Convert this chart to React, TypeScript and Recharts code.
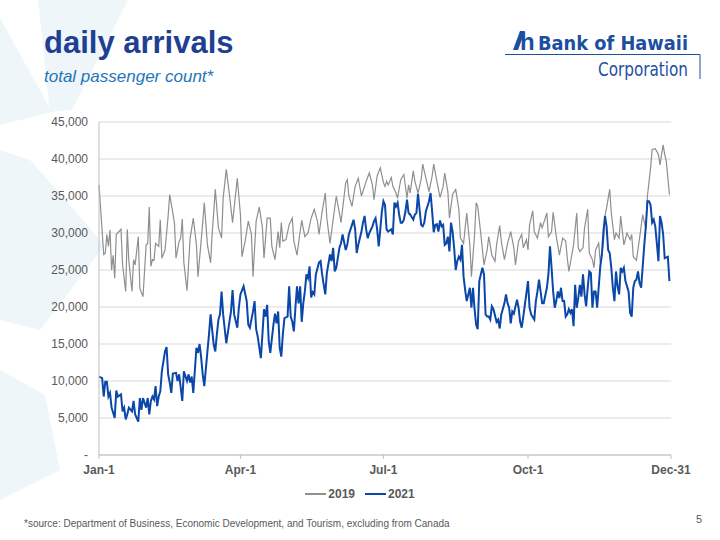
import React from "react";
import { LineChart, Line, XAxis, YAxis, CartesianGrid, Legend } from "recharts";

// day of year (0 = Jan-1) and total passenger count
const days2019 = [
  0, 3, 4, 5, 6, 7, 8, 9, 10, 11, 14, 15, 17, 18, 19, 21, 22, 23, 25, 26, 28, 30, 31, 32, 33, 34, 35, 36, 38, 39,
  40, 42, 44, 45, 48, 49, 51, 52, 53, 54, 56, 58, 60, 62, 63, 66, 67, 69, 71, 72, 74, 76, 78, 79, 81, 83, 85, 88,
  90, 91, 93, 95, 97, 98, 100, 102, 104, 105, 107, 109, 110, 112, 114, 115, 116, 117, 119, 121, 123, 124, 126,
  128, 129, 131, 133, 135, 137, 139, 140, 142, 144, 145, 147, 149, 151, 153, 154, 157, 158, 159, 161, 163, 165,
  167, 169, 170, 172, 174, 175, 177, 179, 181, 182, 183, 184, 186, 187, 189, 190, 192, 194, 196, 197, 198, 200,
  201, 203, 205, 206, 208, 210, 212, 213, 215, 217, 219, 220, 222, 223, 225, 227, 229, 230, 232, 234, 236, 237,
  239, 240, 241, 243, 245, 247, 248, 250, 252, 253, 255, 256, 258, 260, 262, 264, 265, 267, 269, 270, 272, 273,
  274, 276, 277, 279, 281, 282, 285, 286, 288, 289, 291, 293, 295, 297, 298, 299, 302, 304, 305, 306, 308, 309,
  311, 312, 314, 315, 316, 318, 319, 321, 322, 323, 325, 326, 328, 329, 331, 332, 334, 336, 338, 339, 340, 342,
  344, 346, 348, 349, 351, 352, 354, 356, 357, 358, 359, 360, 361, 363,
];
const arrivals2019 = [
  36500, 27100, 27300, 29800, 28200, 30400, 25000, 27000, 23900, 29800, 30500, 25700, 22100, 30500, 26200, 22100,
  26400, 25700, 29500, 22500, 21400, 28400, 28600, 33500, 25500, 26400, 26300, 28600, 28200, 31800, 26600, 27700,
  32300, 35200, 31400, 26600, 28900, 29300, 31900, 26000, 22200, 29300, 32000, 28400, 24100, 31400, 34100, 28400,
  26000, 29800, 35900, 30700, 29300, 34700, 38600, 35200, 31400, 37400, 32500, 26800, 28900, 31600, 29800, 24100,
  31600, 33500, 30700, 26600, 32000, 32000, 28200, 26400, 30200, 28000, 31400, 28900, 29100, 31100, 32000, 28900,
  27000, 30200, 31700, 29500, 30000, 32000, 33200, 31600, 29800, 32900, 35400, 32000, 28600, 31800, 35000, 32700,
  31400, 36800, 37200, 35000, 33600, 36300, 37400, 35000, 36300, 37000, 38100, 36500, 34500, 37700, 38800, 36800,
  36300, 37000, 36500, 37500, 36300, 35400, 34700, 37200, 37900, 34700, 36500, 35400, 38400, 37000, 35400, 37200,
  39300, 37400, 35600, 37700, 39300, 37000, 34800, 36300, 38100, 35600, 32000, 35200, 35900, 33200, 29300, 28600,
  32700, 28400, 24100, 29800, 34100, 33600, 29800, 25700, 27700, 29500, 27000, 26200, 28400, 31000, 28900, 26400,
  28600, 30200, 28000, 25700, 28900, 29800, 28000, 29100, 27700, 31100, 33000, 30200, 29300, 31400, 30700, 32700,
  29500, 30200, 32800, 29500, 27000, 29300, 28900, 26600, 24800, 28400, 32700, 28000, 27500, 28000, 30700, 33200,
  27300, 26400, 25300, 27700, 28600, 26000, 28600, 32300, 33400, 35900, 32700, 29100, 30000, 29300, 32300, 28400,
  30000, 29100, 29800, 26800, 26300, 29300, 32500, 30500, 35000, 38800, 41300, 41400, 40600, 39200, 40600, 41900,
  40600, 39700, 35200,
];

const days2021 = [
  0, 2, 3, 4, 5, 6, 7, 8, 10, 11, 12, 14, 15, 16, 17, 18, 19, 21, 22, 23, 24, 25, 26, 27, 28, 30, 31, 32, 33, 34,
  35, 36, 37, 38, 39, 40, 42, 43, 44, 45, 46, 47, 49, 50, 51, 52, 53, 54, 56, 57, 58, 59, 60, 62, 63, 64, 65, 66,
  67, 69, 70, 71, 73, 74, 75, 76, 77, 78, 79, 81, 83, 84, 85, 86, 88, 89, 90, 92, 94, 95, 96, 98, 99, 100, 101,
  103, 104, 105, 106, 107, 108, 109, 111, 112, 113, 114, 115, 116, 117, 118, 120, 121, 122, 123, 124, 125, 126,
  127, 128, 129, 130, 131, 132, 133, 134, 135, 136, 137, 138, 140, 141, 142, 143, 144, 145, 147, 148, 149, 150,
  151, 153, 154, 155, 157, 158, 159, 161, 162, 163, 164, 165, 167, 168, 169, 170, 171, 172, 174, 175, 176, 177,
  178, 179, 180, 181, 182, 183, 184, 186, 187, 188, 189, 190, 191, 192, 193, 194, 195, 196, 197, 198, 200, 201,
  202, 203, 204, 205, 206, 207, 208, 210, 211, 212, 213, 214, 215, 216, 217, 218, 219, 220, 221, 222, 223, 224,
  225, 226, 227, 228, 229, 230, 231, 232, 233, 234, 235, 236, 237, 238, 239, 240, 241, 242, 244, 245, 246, 247,
  248, 249, 250, 251, 253, 254, 255, 256, 258, 259, 260, 261, 262, 263, 264, 266, 267, 268, 269, 270, 271, 273,
  274, 275, 277, 278, 279, 280, 281, 282, 283, 285, 286, 287, 288, 289, 290, 291, 292, 293, 294, 295, 296, 297,
  298, 299, 300, 301, 302, 303, 304, 305, 306, 307, 308, 309, 310, 311, 312, 313, 314, 315, 316, 317, 319, 320,
  321, 322, 323, 324, 325, 326, 327, 328, 329, 330, 331, 332, 333, 334, 335, 337, 338, 339, 340, 341, 342, 343,
  344, 345, 346, 347, 348, 349, 350, 351, 352, 353, 354, 355, 356, 357, 358, 359, 360, 362, 363,
];
const arrivals2021 = [
  10600, 10400, 7900, 9900, 9900, 7900, 8400, 6400, 5000, 8700, 7900, 8200, 5900, 6400, 4800, 5500, 6400, 5900,
  7300, 5500, 5000, 4500, 7700, 6100, 7700, 6400, 7700, 5500, 7300, 7900, 7500, 9300, 6600, 7900, 8600, 11300,
  14000, 14600, 10900, 9800, 8400, 11000, 11100, 10000, 10900, 9100, 7300, 11300, 10000, 10900, 9800, 10600, 8400,
  14500, 13800, 15000, 13200, 10900, 9300, 14000, 16300, 19000, 14900, 14000, 16300, 18300, 19000, 22100, 19000,
  15100, 18000, 19400, 22300, 19000, 17200, 19900, 21700, 22800, 20800, 17600, 17200, 19400, 20800, 17000, 16000,
  13100, 16300, 19700, 18700, 20300, 15400, 13800, 17600, 19100, 17800, 19400, 14500, 13300, 16300, 18500, 18700,
  22800, 18700, 18000, 16700, 19900, 22800, 20500, 22800, 18000, 20500, 22100, 24400, 23900, 25500, 21300, 22000,
  21700, 24400, 26000, 26200, 24400, 23000, 21700, 24600, 27100, 26200, 28000, 24800, 25300, 28000, 28600, 29800,
  27700, 28400, 29800, 31100, 31800, 30500, 27300, 28400, 30200, 31400, 32300, 30500, 29300, 30000, 30900, 31600,
  32000, 30500, 28200, 30500, 32900, 34300, 33800, 30500, 30200, 30500, 29800, 34100, 33600, 34100, 32500, 31400,
  31400, 31800, 32900, 34500, 32700, 32500, 31800, 32500, 32700, 35300, 33200, 31100, 30900, 31400, 32900, 34300,
  35400, 32900, 30100, 31100, 31200, 30200, 31700, 30900, 31100, 28400, 28600, 29500, 27500, 31400, 30200, 28000,
  25000, 26200, 26800, 26400, 28400, 24100, 22300, 20800, 21700, 22600, 19900, 22600, 19700, 17600, 17000, 23500,
  25300, 24400, 19000, 18700, 18700, 18300, 20100, 19700, 18000, 18300, 17100, 19000, 20500, 21700, 20500, 19900,
  17800, 19400, 19100, 21000, 19900, 18000, 17200, 18700, 20300, 23500, 19900, 19000, 18300, 20800, 22100, 23700,
  22100, 20500, 20500, 22600, 24400, 28200, 25300, 22100, 19900, 20800, 22100, 21200, 22600, 20800, 20800, 18700,
  19000, 19700, 19200, 19700, 17400, 23000, 19900, 21200, 23000, 21400, 24400, 21700, 20100, 22600, 24800, 24600,
  19900, 22100, 22100, 19900, 25500, 27000, 30200, 32300, 30900, 27700, 27300, 25300, 22600, 20800, 24800, 22800,
  21700, 25300, 24800, 25300, 23500, 22100, 19200, 18700, 22600, 23500, 23700, 24800, 23200, 22600, 25500, 28400,
  30900, 34300, 34300, 33800, 31400, 31800, 30900, 28600, 26200, 32300, 31400, 29800, 26600, 26800, 23500,
];

const tickDays = [0, 90, 181, 273, 364];
const tickLabels = ["Jan-1", "Apr-1", "Jul-1", "Oct-1", "Dec-31"];
const yTicks = [0, 5000, 10000, 15000, 20000, 25000, 30000, 35000, 40000, 45000];

const series = [
  { name: "2019", color: "#8f8f8f", width: 1.2, days: days2019, values: arrivals2019 },
  { name: "2021", color: "#0b47a8", width: 2, days: days2021, values: arrivals2021 },
];

const FONT = "Arial, 'Liberation Sans', sans-serif";
const NARROW = "'Liberation Sans Narrow', 'DejaVu Sans Condensed', Arial, sans-serif";

const LegendBox = () => (
  <div style={{ display: "flex", justifyContent: "center", gap: 10, fontFamily: FONT }}>
    {series.map((s) => (
      <div key={s.name} style={{ display: "flex", alignItems: "center", gap: 2 }}>
        <div style={{ width: 21, height: s.name === "2019" ? 1.5 : 2, background: s.color }} />
        <span style={{ fontSize: 12, fontWeight: "bold", color: "#595959" }}>{s.name}</span>
      </div>
    ))}
  </div>
);

const Watermark = () => (
  <svg width={720} height={540} style={{ position: "absolute", left: 0, top: 0 }}>
    <g fill="#eef6f9">
      <polygon points="38,0 128,0 72,110 50,112" />
      <polygon points="0,18 0,125 52,112" />
      <polygon points="0,150 30,160 105,245 40,330 0,320" />
      <polygon points="0,370 45,395 60,470 0,500" />
    </g>
  </svg>
);

export default function App() {
  const lines = series.map((s) => ({
    ...s,
    data: s.days.map((d, i) => ({ day: d, value: s.values[i] })),
  }));

  return (
    <div
      style={{
        position: "fixed",
        left: 0,
        top: 0,
        width: 720,
        height: 540,
        background: "#ffffff",
        overflow: "hidden",
        fontFamily: FONT,
      }}
    >
      <Watermark />

      <div style={{ position: "absolute", left: 44, top: 25, fontSize: 31, fontWeight: "bold", color: "#1f3f93" }}>
        daily arrivals
      </div>
      <div style={{ position: "absolute", left: 44, top: 67, fontSize: 17, fontStyle: "italic", color: "#1f74bb" }}>
        total passenger count*
      </div>

      {/* logo */}
      <svg width={720} height={120} style={{ position: "absolute", left: 0, top: 0 }}>
        <polygon points="513,50 518,50 525,31 520,31" fill="#1d4f9f" />
        <text x={520} y={50} fontSize={24} fontWeight="bold" fill="#1d4f9f" fontFamily={FONT}>
          h
        </text>
        <text
          x={538}
          y={50}
          fontSize={20}
          fontWeight="bold"
          fill="#1d4f9f"
          fontFamily={NARROW}
          textLength={150}
          lengthAdjust="spacingAndGlyphs"
        >
          Bank of Hawaii
        </text>
        <line x1={505} y1={54.5} x2={700} y2={54.5} stroke="#1d4f9f" strokeWidth={1} />
        <line x1={700} y1={54.5} x2={700} y2={79} stroke="#1d4f9f" strokeWidth={1} />
        <text
          x={598}
          y={76}
          fontSize={19}
          fill="#1d4f9f"
          fontFamily={NARROW}
          textLength={90}
          lengthAdjust="spacingAndGlyphs"
        >
          Corporation
        </text>
      </svg>

      <div style={{ position: "absolute", left: 0, top: 0 }}>
        <LineChart width={720} height={540} margin={{ top: 122, right: 49, bottom: 55, left: 0 }}>
          <CartesianGrid vertical={false} stroke="#d9d9d9" />
          <XAxis
            type="number"
            dataKey="day"
            domain={[0, 364]}
            ticks={tickDays}
            tickFormatter={(v: number) => tickLabels[tickDays.indexOf(v)]}
            allowDuplicatedCategory={false}
            height={30}
            axisLine={{ stroke: "#bfbfbf" }}
            tickLine={{ stroke: "#bfbfbf" }}
            tickSize={4}
            tickMargin={6}
            tick={{ fill: "#595959", fontSize: 12, fontWeight: "bold", fontFamily: FONT }}
          />
          <YAxis
            type="number"
            domain={[0, 45000]}
            ticks={yTicks}
            width={99}
            axisLine={{ stroke: "#bfbfbf" }}
            tickLine={false}
            tickSize={0}
            tickMargin={11}
            tickFormatter={(v: number) => (v === 0 ? "-" : v.toLocaleString("en-US"))}
            tick={{ fill: "#595959", fontSize: 12, fontFamily: FONT }}
          />
          <Legend
            layout="horizontal"
            verticalAlign="middle"
            align="center"
            wrapperStyle={{ top: 487, left: 0, width: 720 }}
            content={() => <LegendBox />}
          />
          {lines.map((s) => (
            <Line
              key={s.name}
              data={s.data}
              dataKey="value"
              name={s.name}
              type="linear"
              stroke={s.color}
              strokeWidth={s.width}
              dot={false}
              activeDot={false}
              isAnimationActive={false}
            />
          ))}
        </LineChart>
      </div>

      <div style={{ position: "absolute", left: 24, top: 518, fontSize: 10, color: "#595959" }}>
        *source: Department of Business, Economic Development, and Tourism, excluding from Canada
      </div>
      <div style={{ position: "absolute", left: 696, top: 513, fontSize: 11, color: "#595959" }}>5</div>
    </div>
  );
}
